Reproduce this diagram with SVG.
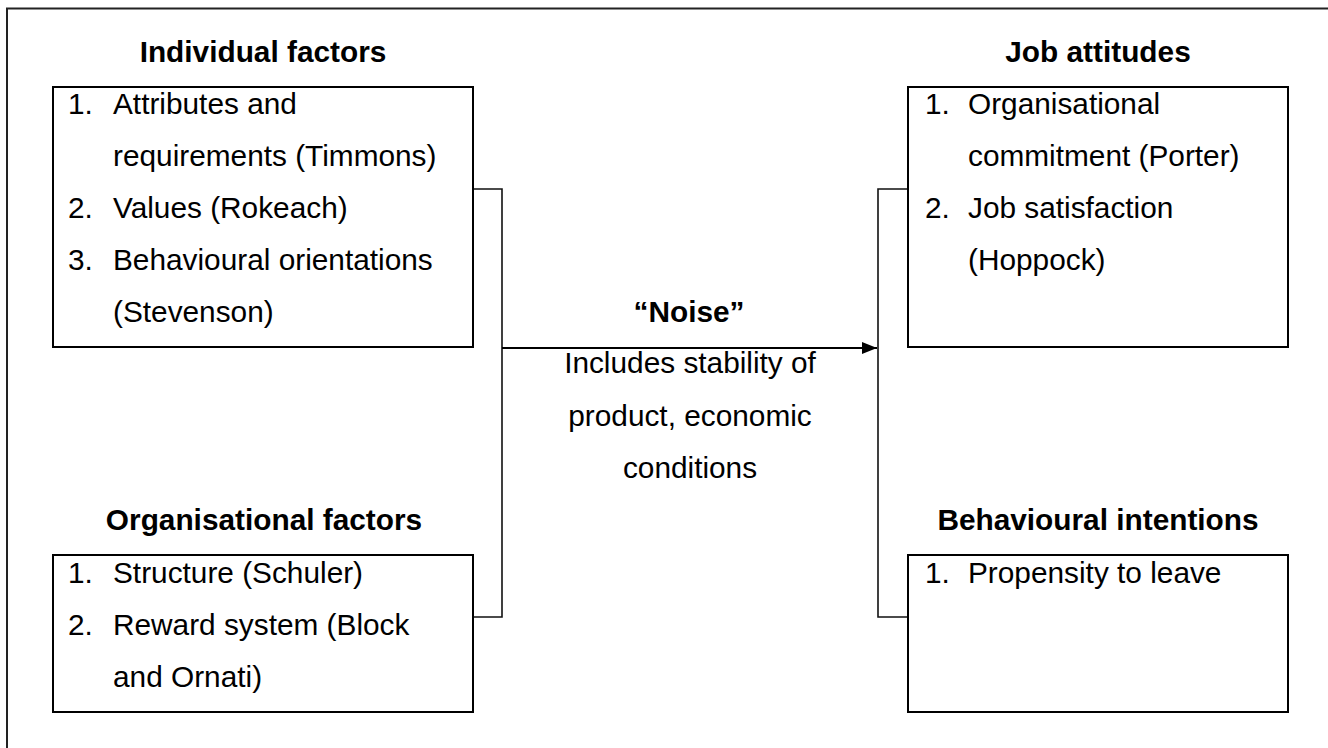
<svg xmlns="http://www.w3.org/2000/svg" width="1328" height="748" viewBox="0 0 1328 748">
  <defs>
    <marker id="arrow" markerWidth="16" markerHeight="12" refX="15" refY="6" orient="auto" markerUnits="userSpaceOnUse">
      <path d="M0,0 L15,6 L0,12 Z" fill="#000"/>
    </marker>
    <style>
      .frame { fill: none; stroke: #222; stroke-width: 2; }
      .box { fill: #fff; stroke: #000; stroke-width: 2; }
      .link { fill: none; stroke: #111; stroke-width: 1.6; }
      .flow { fill: none; stroke: #000; stroke-width: 2.2; }
      .title { font-family: "Liberation Sans", Arial, sans-serif; font-size: 29.8px; font-weight: bold; fill: #000; text-anchor: middle; }
      .item { font-family: "Liberation Sans", Arial, sans-serif; font-size: 29.8px; fill: #000; }
      .mid { font-family: "Liberation Sans", Arial, sans-serif; font-size: 29.8px; fill: #000; text-anchor: middle; }
    </style>
  </defs>
  <rect width="1328" height="748" fill="#fff"/>

  <!-- page frame (top and left edges) -->
  <path class="frame" d="M7,748 V8.5 H1328"/>

  <!-- connectors -->
  <g id="connectors">
    <path class="link" d="M470,189 H502 V617 H473"/>
    <path class="link" d="M908,189 H878 V617 H908"/>
    <path class="flow" d="M502,348 H877" marker-end="url(#arrow)"/>
  </g>

  <g id="individual-factors">
    <text class="title" x="263" y="62">Individual factors</text>
    <rect class="box" x="53" y="87" width="420" height="260"/>
    <text class="item" x="68" y="114">1.</text>
    <text class="item" x="113" y="114">Attributes and</text>
    <text class="item" x="113" y="166">requirements (Timmons)</text>
    <text class="item" x="68" y="218">2.</text>
    <text class="item" x="113" y="218">Values (Rokeach)</text>
    <text class="item" x="68" y="270">3.</text>
    <text class="item" x="113" y="270">Behavioural orientations</text>
    <text class="item" x="113" y="322">(Stevenson)</text>
  </g>

  <g id="organisational-factors">
    <text class="title" x="264" y="530">Organisational factors</text>
    <rect class="box" x="53" y="555" width="420" height="157"/>
    <text class="item" x="68" y="583">1.</text>
    <text class="item" x="113" y="583">Structure (Schuler)</text>
    <text class="item" x="68" y="635">2.</text>
    <text class="item" x="113" y="635">Reward system (Block</text>
    <text class="item" x="113" y="687">and Ornati)</text>
  </g>

  <g id="noise">
    <text class="title" x="689" y="322">“Noise”</text>
    <text class="mid" x="690" y="373">Includes stability of</text>
    <text class="mid" x="690" y="426">product, economic</text>
    <text class="mid" x="690" y="478">conditions</text>
  </g>

  <g id="job-attitudes">
    <text class="title" x="1098" y="62">Job attitudes</text>
    <rect class="box" x="908" y="87" width="380" height="260"/>
    <text class="item" x="925" y="114">1.</text>
    <text class="item" x="968" y="114">Organisational</text>
    <text class="item" x="968" y="166">commitment (Porter)</text>
    <text class="item" x="925" y="218">2.</text>
    <text class="item" x="968" y="218">Job satisfaction</text>
    <text class="item" x="968" y="270">(Hoppock)</text>
  </g>

  <g id="behavioural-intentions">
    <text class="title" x="1098" y="530">Behavioural intentions</text>
    <rect class="box" x="908" y="555" width="380" height="157"/>
    <text class="item" x="925" y="583">1.</text>
    <text class="item" x="968" y="583">Propensity to leave</text>
  </g>
</svg>
